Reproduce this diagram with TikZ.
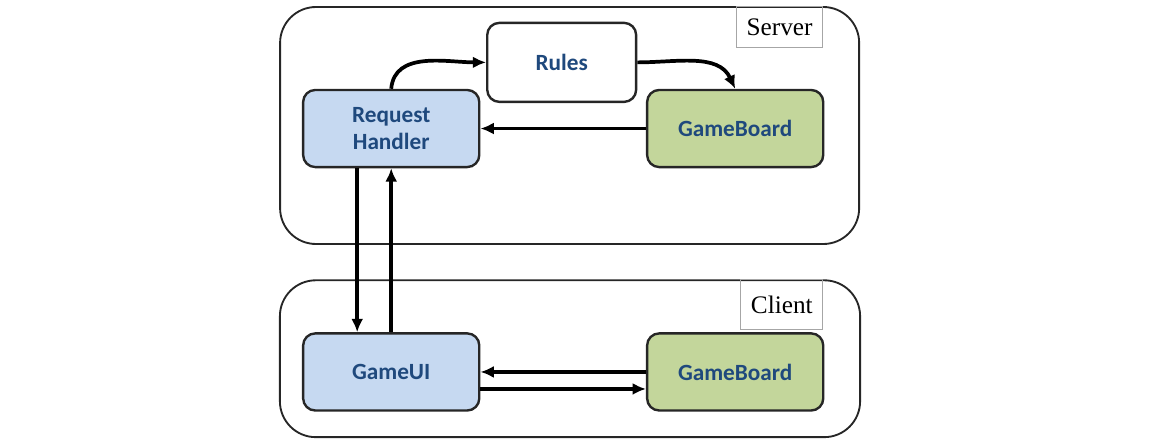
\documentclass[tikz,border=0pt]{standalone}
\usepackage{fontspec}
\setmainfont{Liberation Serif}
\newfontfamily\boxfont{Carlito}
\usetikzlibrary{calc,arrows.meta}
\definecolor{reqblue}{RGB}{198,217,241}
\definecolor{boardgreen}{RGB}{195,214,155}
\definecolor{textblue}{RGB}{31,73,125}
\definecolor{edge}{RGB}{38,38,38}

\begin{document}
\begin{tikzpicture}[
		part/.style={minimum width=4.66cm,minimum height=2.04cm,rounded corners=0.32cm,draw=edge,line width=1.8pt,font=\boxfont\bfseries\fontsize{17.5}{21}\selectfont,text=textblue,align=center},
		tier/.style={rounded corners=0.95cm,draw=edge,line width=1.4pt},
		tag/.style={draw=gray!70,line width=0.6pt,anchor=north east,inner sep=0pt,font=\fontsize{19}{22}\selectfont},
		flow/.style={-{Latex[length=10pt,width=9pt]},line width=2.8pt}
	]
		
		\useasboundingbox (0,0) rectangle (30.98,-11.59);
		
		\node (srv) at (15.07,-3.32) [tier,minimum width=15.32cm,minimum height=6.27cm] {};
		\node (cli) at (15.08,-9.49) [tier,minimum width=15.35cm,minimum height=4.15cm] {};
		\node (srvtag) at ([xshift=-0.98cm]srv.north east) [tag,minimum width=2.28cm,minimum height=1.08cm] {Server};
		\node (clitag) at ([xshift=-1.0cm]cli.north east) [tag,minimum width=2.17cm,minimum height=1.32cm] {Client};
		
		\node (rh) at (10.35,-3.40) [part,fill=reqblue] {Request\\Handler};
		\node (rules) at ($(rh)+(4.51,1.75)$) [part,fill=white,minimum width=3.94cm,minimum height=2.09cm] {Rules};
		\node (gbs) [right of=rh, node distance=9.1cm, part, fill=boardgreen] {GameBoard};
		\node (ui) [below of=rh, node distance=6.44cm, part, fill=reqblue] {GameUI};
		\node (gbc) [right of=ui, node distance=9.1cm, part, fill=boardgreen] {GameBoard};
		
		\draw[flow] (rh.north) to[out=85,in=180] (rules.west);
		\draw[flow] (rules.east) to[out=0,in=115] (gbs.north);
		\draw[flow] (gbs.west) -- (rh.east);
		\draw[flow] ([xshift=-0.9cm]rh.south) -- ([xshift=-0.9cm]ui.north);
		\draw[flow] (ui.north) -- (rh.south);
		\draw[flow] (gbc.west) -- (ui.east);
		\draw[flow] ([yshift=-0.45cm]ui.east) -- ([yshift=-0.45cm]gbc.west);
		
	\end{tikzpicture}
\end{document}
